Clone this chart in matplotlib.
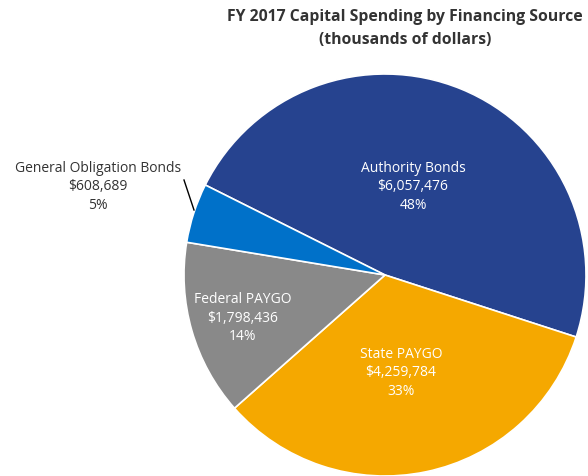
import matplotlib.pyplot as plt

# === Data
sources = ["Authority Bonds", "State PAYGO", "Federal PAYGO", "General Obligation Bonds"]
amounts = [6057476, 4259784, 1798436, 608689]
colors = ["#26438f", "#f5a800", "#898989", "#0071c9"]

total = sum(amounts)
labels = [f"{s}\n${a:,}\n{round(a / total * 100)}%" for s, a in zip(sources, amounts)]

plt.rcParams['font.family'] = ['Open Sans', 'DejaVu Sans']

# === Figure in pixel-like coords
fig = plt.figure(figsize=(5.88, 4.76), dpi=100)
ax = fig.add_axes([0, 0, 1, 1])
ax.set_xlim(0, 588)
ax.set_ylim(476, 0)
ax.axis('off')

wedges, _ = ax.pie(amounts, colors=colors, startangle=-153.4, counterclock=True,
                   center=(385, 275), radius=201,
                   wedgeprops=dict(edgecolor='white', linewidth=1.2))
ax.set_xlim(0, 588)
ax.set_ylim(476, 0)

# === Slice labels
label_pos = [(413, 187), (401, 373), (243, 318)]
for txt, (x, y) in zip(labels[:3], label_pos):
    ax.text(x, y, txt, ha='center', va='center', color='white',
            fontsize=10, linespacing=1.3)

ax.text(98, 187, labels[3], ha='center', va='center', color='#333333',
        fontsize=10, linespacing=1.3)
ax.plot([184, 194], [180, 210], color='black', lw=1)

# === Title
ax.text(405, 17, "FY 2017 Capital Spending by Financing Source", ha='center', va='center',
        fontsize=11.3, fontweight='bold', color='#333333')
ax.text(405, 40, "(thousands of dollars)", ha='center', va='center',
        fontsize=11.3, fontweight='bold', color='#333333')

fig.savefig("out.png", dpi=100)
